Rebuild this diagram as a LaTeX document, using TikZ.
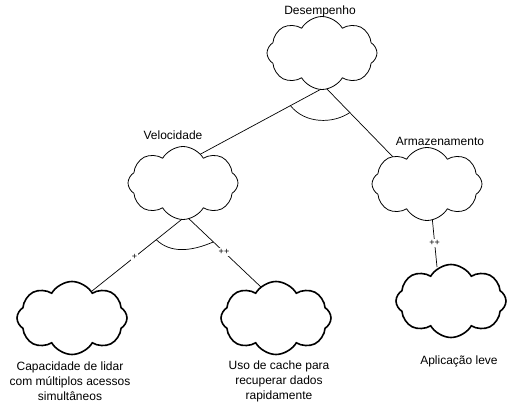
\documentclass[tikz,border=0pt]{standalone}
\usepackage{fontspec}
\setmainfont{Liberation Sans}
\usetikzlibrary{shapes.symbols,calc,backgrounds}
\begin{document}
\begin{tikzpicture}[x=1pt,y=-1pt,
  cl/.style={cloud, cloud puffs=8, cloud puff arc=120, cloud ignores aspect, draw, fill=white, line width=0.8pt, minimum width=110pt, minimum height=73pt, inner sep=0pt},
  clb/.style={cl, line width=1.6pt},
  lbl/.style={font=\fontsize{12}{15}\selectfont, align=center},
  tag/.style={font=\fontsize{9}{10}\selectfont, fill=white, inner sep=1pt},
  ln/.style={line width=0.7pt}]
\useasboundingbox (0,0) rectangle (512,402);
\node[cl] (des) at (322,53) {};
\node[cl] (vel) at (183,183) {};
\node[cl] (arm) at (427,184) {};
\node[clb] (cap) at (72,318) {};
\node[clb] (uso) at (276,318) {};
\node[clb] (apl) at (451,301) {};
\node[lbl] (tdes) at (320,11) {Desempenho};
\node[lbl] (tvel) at (173,135) {Velocidade};
\node[lbl] (tarm) at (440,141) {Armazenamento};
\node[lbl] (tcap) at (70,381) {Capacidade de lidar\\com múltiplos acessos\\simultâneos};
\node[lbl] (tuso) at (279,381) {Uso de cache para\\recuperar dados\\rapidamente};
\node[lbl] (tapl) at (459,361) {Aplicação leve};
\coordinate (d0) at (325,87);
\coordinate (v1) at (197,156);
\coordinate (a1) at (394,158);
\coordinate (v0) at (186,216);
\coordinate (c1) at (87,295);
\coordinate (u1) at (262,288);
\coordinate (a0) at (432,216);
\coordinate (p1) at (437,267);
\begin{scope}[on background layer]
\draw[ln] (d0) -- (v1);
\draw[ln] (d0) -- (a1);
\draw[ln] ($(d0)!0.27!(v1)$) .. controls (305,124) and (333,124) .. ($(d0)!0.36!(a1)$);
\draw[ln] (v0) -- node[tag, pos=0.52] {+} (c1);
\draw[ln] (v0) -- node[tag, pos=0.5] {++} (u1);
\draw[ln] ($(v0)!0.3!(c1)$) .. controls (170,253) and (190,252) .. ($(v0)!0.36!(u1)$);
\draw[ln] (a0) -- node[tag, pos=0.53] {++} (p1);
\end{scope}
\end{tikzpicture}
\end{document}
